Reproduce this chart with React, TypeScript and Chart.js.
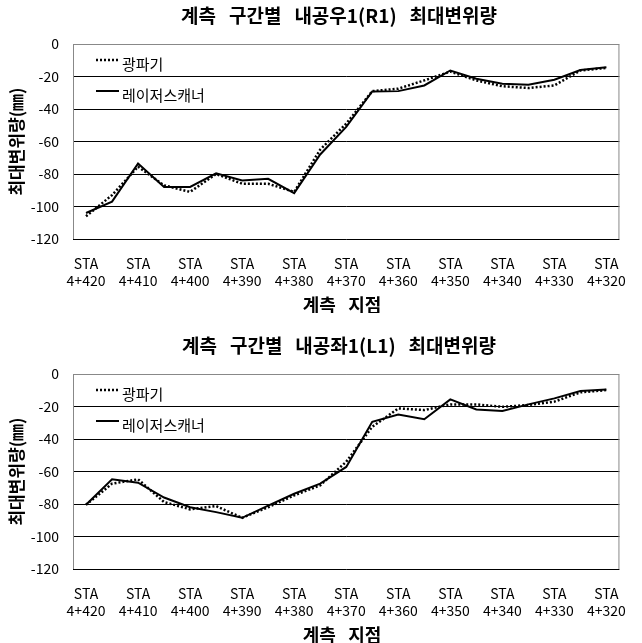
import React, { useEffect, useRef } from "react";
import { Chart, registerables } from "chart.js";
Chart.register(...registerables);

const categories = [
  "4+420", "4+415", "4+410", "4+405", "4+400", "4+395", "4+390", "4+385", "4+380", "4+375",
  "4+370", "4+365", "4+360", "4+355", "4+350", "4+345", "4+340", "4+335", "4+330", "4+325", "4+320",
];
const tickStations = ["4+420", "4+410", "4+400", "4+390", "4+380", "4+370", "4+360", "4+350", "4+340", "4+330", "4+320"];

const r1Total = [-106, -93, -75.5, -87, -91, -80, -86, -86, -91, -65, -49, -29, -27.5, -22.4, -17, -22.4, -26, -27.1, -25.5, -16.3, -14.7];
const r1Laser = [-104, -97, -73.5, -88, -88, -79.6, -84, -83, -91.8, -68, -51, -29.2, -29, -25.5, -16.3, -21.4, -24.5, -25.1, -22, -16, -14.3];
const l1Total = [-80.5, -67.5, -64.8, -78.8, -83.3, -81.3, -88.5, -82, -74.7, -68.5, -54, -32.5, -21.2, -22.2, -18.7, -18.7, -20.2, -19.1, -17, -11.3, -9.9];
const l1Laser = [-80.5, -64.8, -66.9, -76, -82, -85, -88.5, -81, -73.7, -67.5, -57.2, -29.4, -24.9, -27.8, -15.6, -21.8, -22.8, -18.7, -15, -10.5, -9.5];

const seriesNames = ["광파기", "레이저스캐너"];
const titles = ["계측   구간별   내공우1(R1)   최대변위량", "계측   구간별   내공좌1(L1)   최대변위량"];
const xTitle = "계측   지점";
const yTitle = "최대변위량(㎜)";

const FONT = "'Noto Sans CJK KR', 'Noto Sans', sans-serif";

function Panel({ title, total, laser, top }: { title: string; total: number[]; laser: number[]; top: number }) {
  const ref = useRef<HTMLCanvasElement | null>(null);
  useEffect(() => {
    if (!ref.current) return;
    const overlay = {
      id: "overlay",
      beforeDatasetsDraw(chart: any) {
        const { ctx, chartArea: a } = chart;
        ctx.save();
        ctx.strokeStyle = "#888";
        ctx.lineWidth = 1;
        ctx.beginPath();
        ctx.moveTo(a.left + 0.5, a.bottom);
        ctx.lineTo(a.left + 0.5, a.top + 0.5);
        ctx.lineTo(a.right - 0.5, a.top + 0.5);
        ctx.lineTo(a.right - 0.5, a.bottom);
        ctx.stroke();
        ctx.restore();
      },
      afterDraw(chart: any) {
        const { ctx, chartArea: a } = chart;
        ctx.save();
        ctx.fillStyle = "#000";
        ctx.textAlign = "center";
        ctx.textBaseline = "middle";
        ctx.font = `bold 19px ${FONT}`;
        ctx.fillText(title, 339, 16);
        ctx.font = `bold 18px ${FONT}`;
        ctx.fillText(xTitle, 342, 305);
        const items = chart.data.datasets;
        const ys = [60, 91];
        items.forEach((ds: any, i: number) => {
          ctx.strokeStyle = ds.borderColor;
          ctx.lineWidth = ds.borderWidth;
          ctx.setLineDash(ds.borderDash || []);
          ctx.beginPath();
          ctx.moveTo(a.left + 23, ys[i]);
          ctx.lineTo(a.left + 46, ys[i]);
          ctx.stroke();
          ctx.setLineDash([]);
          ctx.font = `15px ${FONT}`;
          ctx.textAlign = "left";
          ctx.fillText(ds.label, a.left + 49, ys[i] + 4);
        });
        ctx.restore();
      },
    };
    const chart = new Chart(ref.current, {
      type: "line",
      data: {
        labels: categories,
        datasets: [
          {
            label: seriesNames[0],
            data: total,
            borderColor: "#000",
            borderWidth: 2.5,
            borderDash: [2, 2],
            pointRadius: 0,
            tension: 0,
            fill: false,
          },
          {
            label: seriesNames[1],
            data: laser,
            borderColor: "#000",
            borderWidth: 2,
            pointRadius: 0,
            tension: 0,
            fill: false,
          },
        ],
      },
      options: {
        responsive: false,
        animation: false,
        layout: { padding: { top: 44, right: 6, left: 0, bottom: 0 } },
        plugins: { legend: { display: false }, title: { display: false }, tooltip: { enabled: false } },
        scales: {
          x: {
            offset: true,
            grid: { display: false, drawTicks: false },
            border: { display: false },
            afterFit: (s: any) => { s.height = 74; },
            ticks: {
              autoSkip: false,
              maxRotation: 0,
              minRotation: 0,
              padding: 16,
              color: "#000",
              font: { family: FONT, size: 14 },
              callback: (_v: any, i: number) =>
                tickStations.includes(categories[i]) ? ["STA", categories[i]] : "",
            },
          },
          y: {
            min: -120,
            max: 0,
            afterFit: (s: any) => { s.width = 73; },
            grid: {
              drawTicks: false,
              color: (c: any) => (c.tick && c.tick.value === 0 ? "#888" : "#000"),
              lineWidth: 1,
            },
            border: { display: false },
            ticks: { stepSize: 20, padding: 14, color: "#000", font: { family: FONT, size: 14 } },
            title: {
              display: true,
              text: yTitle,
              color: "#000",
              font: { family: FONT, size: 17, weight: "bold" },
              padding: { top: 6, bottom: 0 },
            },
          },
        },
      },
      plugins: [overlay],
    });
    return () => chart.destroy();
  }, []);
  return (
    <canvas
      ref={ref}
      width={642}
      height={313}
      style={{ position: "absolute", left: 0, top, width: 642, height: 313 }}
    />
  );
}

export default function App() {
  return (
    <div style={{ position: "absolute", left: 0, top: 0, width: 642, height: 643, background: "#fff" }}>
      <Panel title={titles[0]} total={r1Total} laser={r1Laser} top={0} />
      <Panel title={titles[1]} total={l1Total} laser={l1Laser} top={330} />
    </div>
  );
}
